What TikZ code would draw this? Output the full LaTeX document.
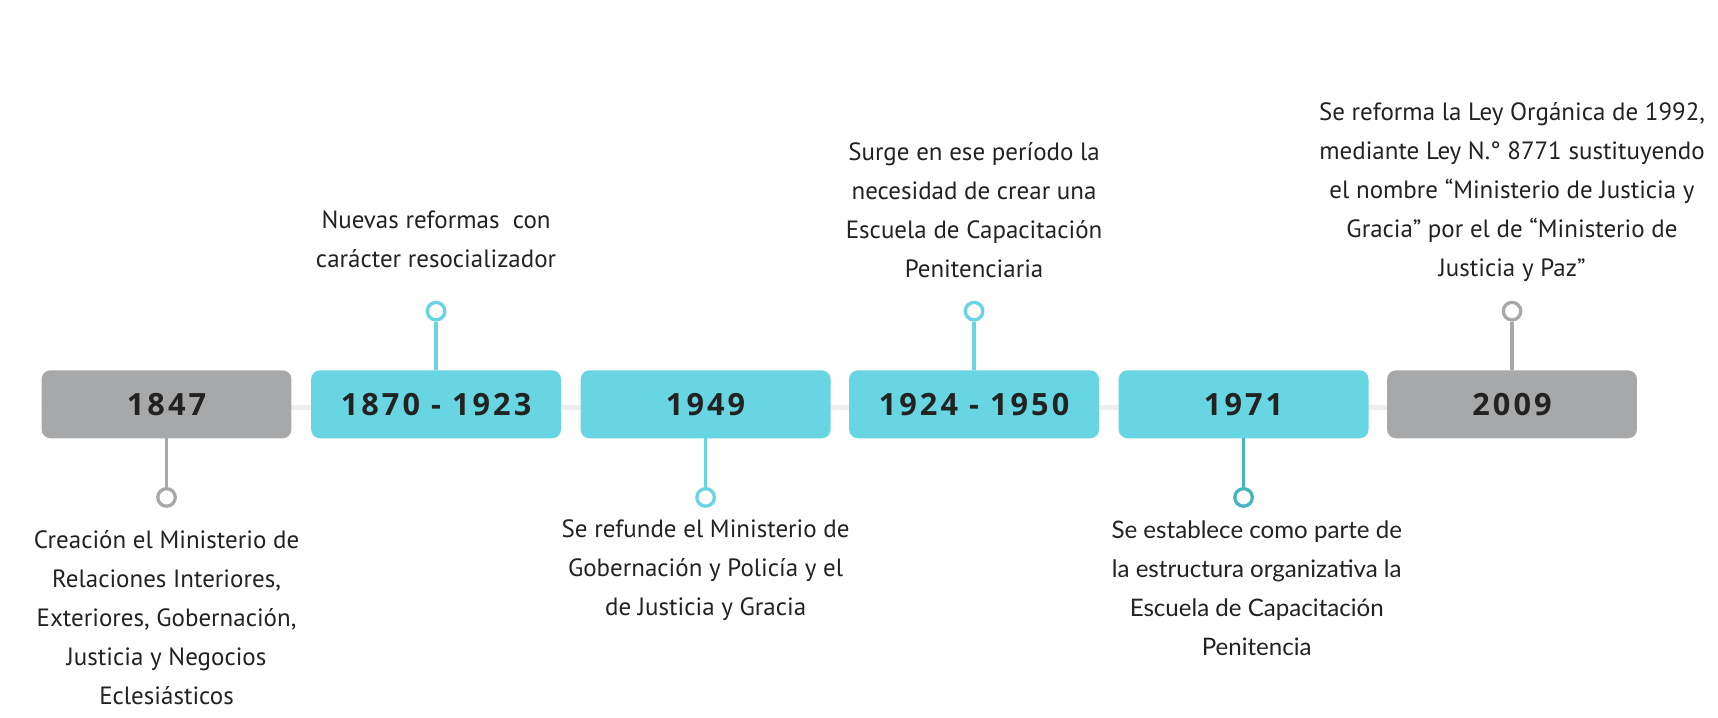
\documentclass[tikz,border=0pt]{standalone}
\usepackage{fontspec}
\setmainfont{PT Sans}
\newfontfamily\yearfont[LetterSpace=10]{Open Sans}
\newfontfamily\latofont{Lato}
\definecolor{cy}{HTML}{68D5E3}
\definecolor{cydark}{HTML}{45B5C4}
\definecolor{gr}{HTML}{A7A8AA}
\definecolor{tline}{HTML}{EEEEEE}
\definecolor{txt}{HTML}{222222}
\begin{document}
\begin{tikzpicture}[x=1pt,y=-1pt,
  yearbox/.style={rounded corners=8pt, minimum width=228pt, minimum height=62pt, inner sep=0pt,
    font=\yearfont\bfseries\fontsize{28}{28}\selectfont, text=txt},
  desc/.style={align=center, text=txt, inner sep=0pt, font=\fontsize{22.8}{35.6}\selectfont},
  dot/.style={circle, line width=3pt, fill=white, minimum size=16pt, inner sep=0pt},
  conn/.style={line width=3pt}]
\useasboundingbox (0,0) rectangle (1568,655);
\fill[white] (0,0) rectangle (1568,655);
\coordinate (L) at (38,372);
\coordinate (R) at (1494,372);
\draw[line width=5pt, tline] (L) -- (R);
% boxes
\node[yearbox, fill=gr] (b1) at (152,369) {1847};
\node[yearbox, fill=cy] (b2) at (398,369) {1870 - 1923};
\node[yearbox, fill=cy] (b3) at (644,369) {1949};
\node[yearbox, fill=cy] (b4) at (889,369) {1924 - 1950};
\node[yearbox, fill=cy] (b5) at (1135,369) {1971};
\node[yearbox, fill=gr] (b6) at (1380,369) {2009};
% markers
\node[dot, draw=gr] (c1) at (152,454) {};
\node[dot, draw=cy] (c2) at (398,284) {};
\node[dot, draw=cy] (c3) at (644,454) {};
\node[dot, draw=cy] (c4) at (889,284) {};
\node[dot, draw=cydark] (c5) at (1135,454) {};
\node[dot, draw=gr] (c6) at (1380,284) {};
\draw[conn, gr] (b1) -- (c1);
\draw[conn, cy] (c2) -- (b2);
\draw[conn, cy] (b3) -- (c3);
\draw[conn, cy] (c4) -- (b4);
\draw[conn, cydark] (b5) -- (c5);
\draw[conn, gr] (c6) -- (b6);
% texts
\node[desc] (t1) at (152,564) {Creación el Ministerio de\\Relaciones Interiores,\\Exteriores, Gobernación,\\Justicia y Negocios\\Eclesiásticos};
\node[desc] (t2) at (398,218) {Nuevas reformas\ \ con\\carácter resocializador};
\node[desc] (t3) at (644,520) {Se refunde el Ministerio de\\Gobernación y Policía y el\\de Justicia y Gracia};
\node[desc] (t4) at (889,192) {Surge en ese período la\\necesidad de crear una\\Escuela de Capacitación\\Penitenciaria};
\node[desc, font=\latofont\fontsize{22}{35.6}\selectfont] (t5) at (1147,537) {Se establece como parte de\\la estructura organizativa la\\Escuela de Capacitación\\Penitencia};
\node[desc] (t6) at (1380,175) {Se reforma la Ley Orgánica de 1992,\\mediante Ley N.° 8771 sustituyendo\\el nombre “Ministerio de Justicia y\\Gracia” por el de “Ministerio de\\Justicia y Paz”};
\end{tikzpicture}
\end{document}
